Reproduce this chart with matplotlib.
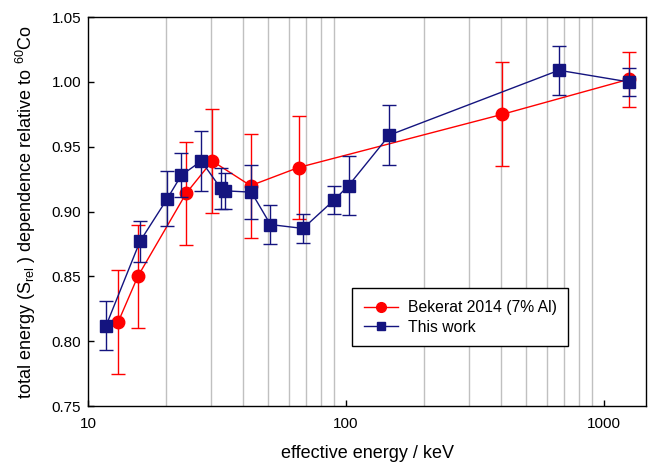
import numpy as np
import matplotlib.pyplot as plt
from matplotlib.lines import Line2D
from matplotlib.ticker import LogLocator, NullFormatter, FixedLocator

plt.rcParams['font.family'] = ['Liberation Sans', 'DejaVu Sans']
plt.rcParams['mathtext.fontset'] = 'custom'
plt.rcParams['mathtext.rm'] = 'Liberation Sans'
plt.rcParams['mathtext.it'] = 'Liberation Sans:italic'

# Bekerat 2014 (7% Al)
bek_e = [13.1, 15.6, 24.0, 30.3, 42.7, 65.5, 404, 1250]
bek_s = [0.815, 0.850, 0.914, 0.939, 0.920, 0.934, 0.975, 1.002]
bek_err = [0.040, 0.040, 0.040, 0.040, 0.040, 0.040, 0.040, 0.021]

# This work
tw_e = [11.75, 15.9, 20.3, 23.0, 27.5, 32.7, 34.0, 43.0, 51.0, 68.2, 90.1, 102.4, 147.5, 670, 1250]
tw_s = [0.812, 0.877, 0.910, 0.928, 0.939, 0.918, 0.916, 0.915, 0.890, 0.887, 0.909, 0.920, 0.959, 1.009, 1.000]
tw_err = [0.019, 0.016, 0.021, 0.017, 0.023, 0.016, 0.014, 0.021, 0.015, 0.011, 0.011, 0.023, 0.023, 0.019, 0.011]

fig = plt.figure(figsize=(6.52, 4.62), dpi=100)
ax = fig.add_axes([0.135, 0.121, 0.856, 0.842])

red = '#ff0000'
navy = '#14147f'

ax.errorbar(bek_e, bek_s, yerr=bek_err, color=red, marker='o', markersize=9,
            linewidth=1, elinewidth=1, capsize=5, capthick=1, zorder=3)
ax.errorbar(tw_e, tw_s, yerr=tw_err, color=navy, marker='s', markersize=8,
            linewidth=1, elinewidth=1, capsize=5, capthick=1, zorder=4)

ax.set_xscale('log')
ax.set_xlim(10, 1460)
ax.set_ylim(0.75, 1.05)
ax.set_yticks(np.arange(0.75, 1.051, 0.05))
ax.set_yticklabels(['%.2f' % v for v in np.arange(0.75, 1.051, 0.05)])
ax.xaxis.set_major_locator(FixedLocator([10, 100, 1000]))
ax.set_xticklabels(['10', '100', '1000'])
ax.xaxis.set_minor_locator(LogLocator(base=10, subs=np.arange(2, 10)))
ax.xaxis.set_minor_formatter(NullFormatter())
ax.grid(True, which='minor', axis='x', color='#c0c0c0', linewidth=1)
ax.tick_params(which='major', direction='in', length=4, labelsize=11, width=1)
ax.tick_params(which='minor', length=0)
ax.tick_params(axis='x', pad=8)
ax.tick_params(axis='y', pad=5)
for s in ax.spines.values():
    s.set_linewidth(1)

ax.set_xlabel('effective energy / keV', fontsize=13, labelpad=10)
ax.set_ylabel(r'total energy (S$_{\mathrm{rel}}$ ) dependence relative to $^{\mathrm{60}}$Co',
              fontsize=13, labelpad=10)

handles = [Line2D([], [], color=red, marker='o', markersize=7, linewidth=1),
           Line2D([], [], color=navy, marker='s', markersize=6, linewidth=1)]
leg = ax.legend(handles, ['Bekerat 2014 (7% Al)', 'This work'],
                loc='upper left', bbox_to_anchor=(0.473, 0.303),
                borderaxespad=0, fontsize=11.3,
                frameon=True, fancybox=False, edgecolor='black', framealpha=1,
                handlelength=2.2, handletextpad=0.6, borderpad=0.75,
                labelspacing=0.3)
leg.get_frame().set_linewidth(1)

fig.savefig('out.png', dpi=100)
